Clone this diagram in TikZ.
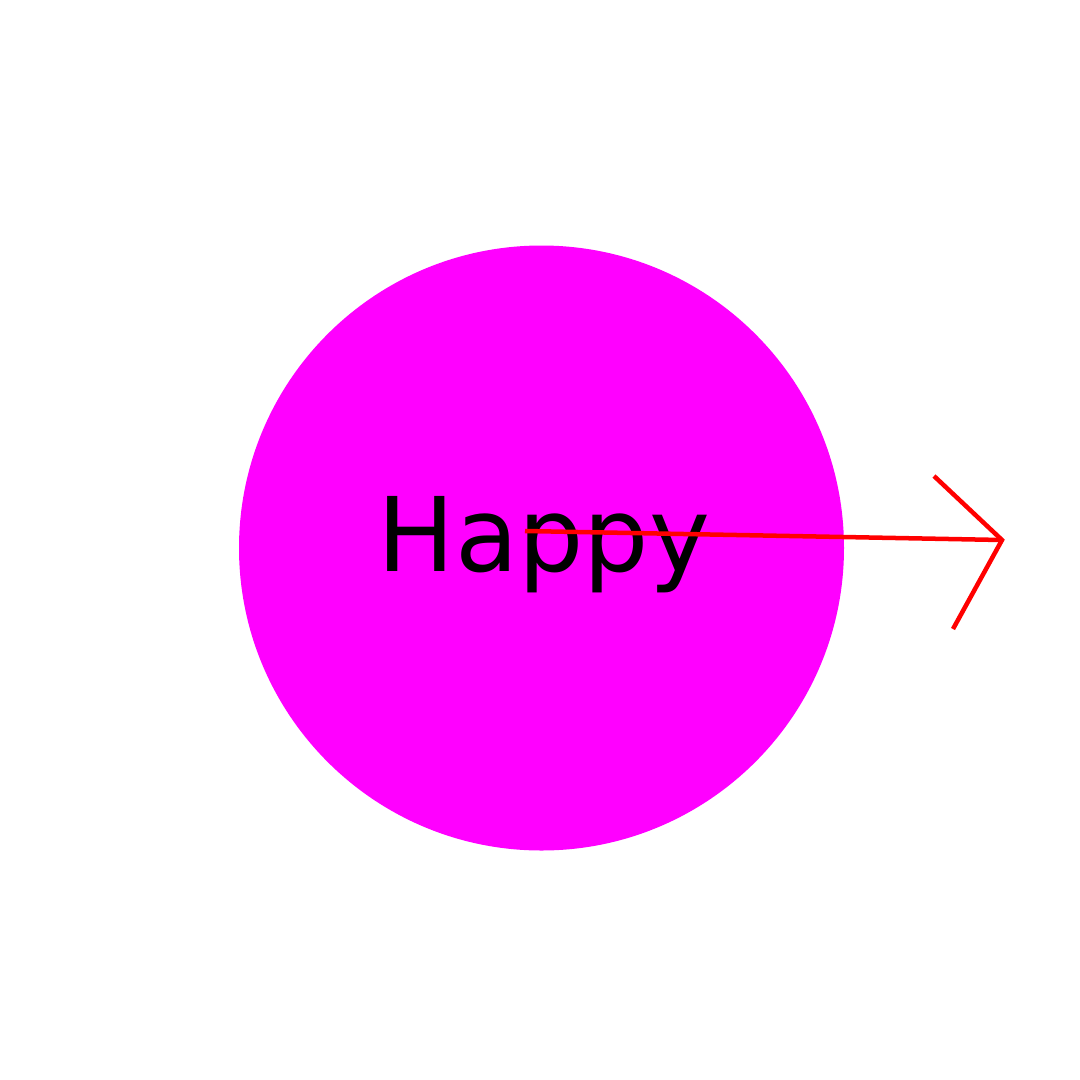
\documentclass[tikz,border=0pt]{standalone}
\usepackage{fontspec}
\setmainfont{DejaVu Sans}
\definecolor{mag}{RGB}{255,0,255}
\definecolor{arrowred}{RGB}{255,0,0}
\tikzset{
  ball/.style={circle, fill=mag, draw=none, minimum size=605pt, inner sep=0pt},
  lbl/.style={font=\fontsize{103}{103}\selectfont, text=black, inner sep=0pt, anchor=base},
  redline/.style={draw=arrowred, line width=4.5pt}
}
\begin{document}
\begin{tikzpicture}[x=1pt,y=-1pt]
\useasboundingbox (0,0) rectangle (1080,1080);
\node[ball] (c) at (541.5,548) {};
\node[lbl] (t) at (544,571) {Happy};
\coordinate (s) at (525,531);
\coordinate (tip) at (1002,540);
\coordinate (a1) at (934,476);
\coordinate (a2) at (953,629);
\draw[redline] (s) -- (tip);
\draw[redline] (a1) -- (tip) -- (a2);
\end{tikzpicture}
\end{document}
